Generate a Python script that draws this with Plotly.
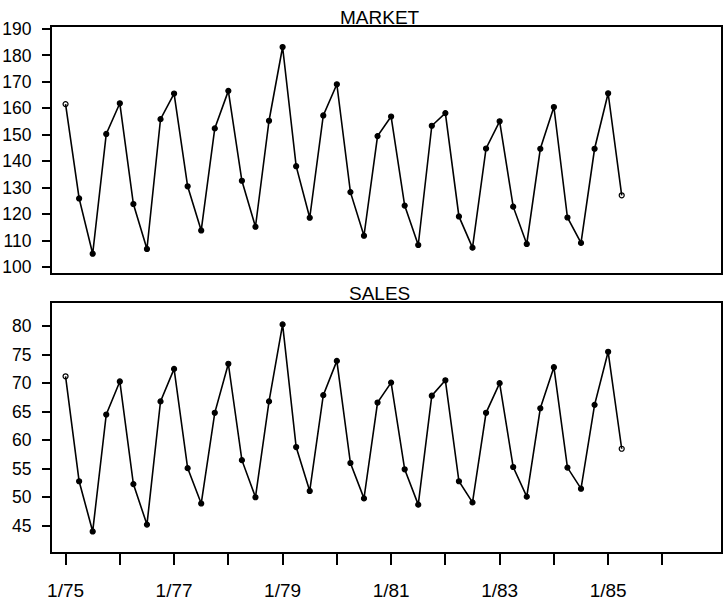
import plotly.graph_objects as go

# Quarterly data, 1/75 through 4/85
market = [161.6, 125.9, 105.0, 150.3, 161.9, 123.8, 106.8, 155.9, 165.6, 130.5,
          113.8, 152.4, 166.6, 132.6, 115.2, 155.3, 183.2, 138.1, 118.6, 157.3,
          169.1, 128.3, 111.8, 149.5, 156.9, 123.2, 108.3, 153.4, 158.2, 119.1,
          107.3, 144.8, 155.1, 122.8, 108.7, 144.7, 160.5, 118.7, 109.1, 144.7,
          165.7, 127.1]
sales = [71.2, 52.8, 44.0, 64.5, 70.3, 52.3, 45.2, 66.8, 72.5, 55.1,
         48.9, 64.8, 73.4, 56.5, 50.0, 66.8, 80.3, 58.8, 51.1, 67.9,
         73.9, 56.0, 49.8, 66.6, 70.1, 54.9, 48.7, 67.8, 70.5, 52.8,
         49.1, 64.8, 70.0, 55.3, 50.1, 65.6, 72.8, 55.2, 51.5, 66.2,
         75.5, 58.5]
start_year = 1975
quarters = [start_year + i / 4 for i in range(len(market))]

tick_years = list(range(1975, 1987))
tick_text = [f"1/{y % 100:02d}" if (y - 1975) % 2 == 0 else "" for y in tick_years]
market_ticks = list(range(100, 191, 10))
sales_ticks = list(range(45, 81, 5))

FONT = "Liberation Sans Narrow, Arial Narrow, Liberation Sans, Arial, sans-serif"

symbols = ["circle-open"] + ["circle"] * (len(market) - 2) + ["circle-open"]

fig = go.Figure()
for yname, xname, vals in [("y", "x", market), ("y2", "x2", sales)]:
    fig.add_trace(go.Scatter(
        x=quarters, y=vals, xaxis=xname, yaxis=yname,
        mode="lines+markers",
        line=dict(color="black", width=1.6),
        marker=dict(symbol=symbols, size=5, color="black",
                    line=dict(color="black", width=1.2)),
        showlegend=False, hoverinfo="x+y",
    ))

xrange = [1974.75, 1987.08]
common_axis = dict(showline=True, linecolor="black", linewidth=2, mirror=True,
                   showgrid=False, zeroline=False)

fig.update_layout(
    width=724, height=602,
    margin=dict(l=52, r=1, t=27, b=49),
    paper_bgcolor="white", plot_bgcolor="white",
    font=dict(family=FONT, color="black"),
    xaxis=dict(domain=[0, 1], anchor="y", range=xrange, showticklabels=False,
               ticks="", tickvals=tick_years, **common_axis),
    yaxis=dict(domain=[0.5314, 1], anchor="x", range=[97.7, 190.76],
               tickvals=market_ticks, ticks="outside", ticklen=8, tickwidth=1.5,
               tickcolor="black", tickfont=dict(size=17.5, family=FONT),
               ticklabelstandoff=7, **common_axis),
    xaxis2=dict(domain=[0, 1], anchor="y2", range=xrange,
                tickvals=tick_years, ticktext=tick_text, ticks="outside",
                ticklen=11, tickwidth=1.5, tickcolor="black",
                tickfont=dict(size=19, family=FONT), ticklabelstandoff=9,
                **common_axis),
    yaxis2=dict(domain=[0, 0.4734], anchor="x2", range=[40.4, 83.97],
                tickvals=sales_ticks, ticks="outside", ticklen=8, tickwidth=1.5,
                tickcolor="black", tickfont=dict(size=17.5, family=FONT),
                ticklabelstandoff=7, **common_axis),
    annotations=[
        dict(text="MARKET", x=0.49, y=1, xref="paper", yref="paper",
             xanchor="center", yanchor="bottom", showarrow=False,
             font=dict(size=19, family=FONT), yshift=-3),
        dict(text="SALES", x=0.49, y=0.4734, xref="paper", yref="paper",
             xanchor="center", yanchor="bottom", showarrow=False,
             font=dict(size=19, family=FONT), yshift=-3),
    ],
)

fig.write_html("out.html")
